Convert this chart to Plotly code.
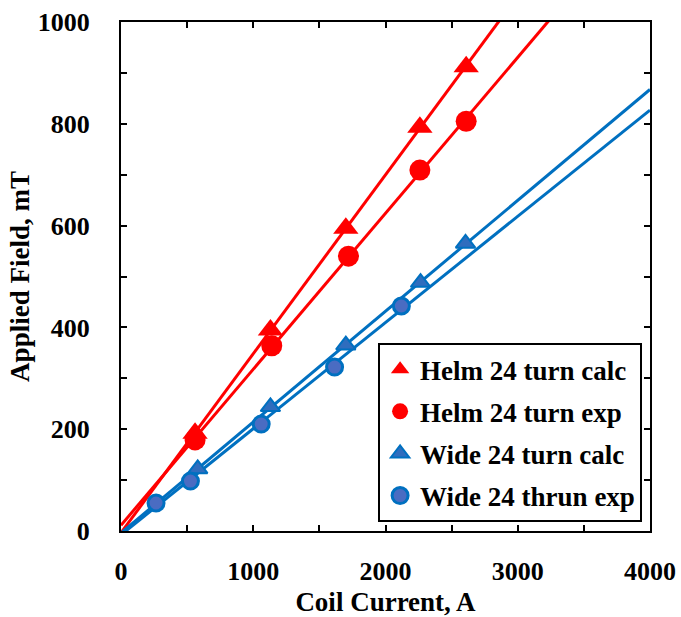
import numpy as np
import plotly.graph_objects as go

# Data
helm_calc_x = [560, 1130, 1700, 2260, 2610]
helm_calc_y = [192, 395, 595, 793, 912]
helm_exp_x = [560, 1140, 1720, 2260, 2610]
helm_exp_y = [179, 364, 540, 709, 805]
wide_calc_x = [580, 1130, 1700, 2265, 2605]
wide_calc_y = [122, 244, 365, 488, 565]
wide_exp_x = [265, 525, 1060, 1615, 2120]
wide_exp_y = [55, 98, 210, 322, 442]

x_ticks = [0, 500, 1000, 1500, 2000, 2500, 3000, 3500, 4000]
x_ticklabels = ["0", "", "1000", "", "2000", "", "3000", "", "4000"]
y_ticks = [0, 100, 200, 300, 400, 500, 600, 700, 800, 900, 1000]
y_ticklabels = ["0", "", "200", "", "400", "", "600", "", "800", "", "1000"]

RED = "#FF0000"
BLUE = "#0070C0"
FONT = "Liberation Serif"

series = [
    dict(name="Helm 24 turn calc", x=helm_calc_x, y=helm_calc_y, symbol="triangle-up",
         color=RED, line_color=RED, size=22, lw=0),
    dict(name="Helm 24 turn exp", x=helm_exp_x, y=helm_exp_y, symbol="circle",
         color=RED, line_color=RED, size=21, lw=0),
    dict(name="Wide 24 turn calc", x=wide_calc_x, y=wide_calc_y, symbol="triangle-up",
         color="#2F6DBE", line_color=BLUE, size=17, lw=2),
    dict(name="Wide 24 thrun exp", x=wide_exp_x, y=wide_exp_y, symbol="circle",
         color="#4A6CC2", line_color=BLUE, size=16, lw=3),
]

fig = go.Figure()

# Linear trendlines (fit from the data), drawn across the full x range
for s in series:
    slope, icpt = np.polyfit(s["x"], s["y"], 1)
    xs = np.array([0.0, 4000.0])
    fig.add_trace(go.Scatter(
        x=xs, y=slope * xs + icpt, mode="lines",
        line=dict(color=s["line_color"], width=3),
        showlegend=False, hoverinfo="skip", cliponaxis=True,
    ))

for i, s in enumerate(series):
    fig.add_trace(go.Scatter(
        x=s["x"], y=s["y"], mode="markers", name=s["name"],
        legendgroup=f"g{i}",
        marker=dict(symbol=s["symbol"], size=s["size"], color=s["color"],
                    line=dict(color=s["line_color"], width=s["lw"])),
        cliponaxis=False,
    ))

axis_common = dict(
    showgrid=False, zeroline=False, showline=True, linecolor="black", linewidth=2,
    mirror="allticks", ticks="inside", ticklen=6, tickwidth=2, tickcolor="black",
    tickfont=dict(family=FONT, size=26, color="black", weight="bold"),
    automargin=False,
)
title_font = dict(family=FONT, size=27, color="black", weight="bold")

fig.update_layout(
    width=681, height=617,
    margin=dict(l=121, r=31, t=22, b=86),
    paper_bgcolor="white", plot_bgcolor="white",
    font=dict(family=FONT, color="black"),
    xaxis=dict(
        range=[0, 4000], tickmode="array", tickvals=x_ticks, ticktext=x_ticklabels,
        ticklabelstandoff=16,
        title=dict(text="Coil Current, A", font=title_font, standoff=12),
        **axis_common,
    ),
    yaxis=dict(
        range=[0, 1000], tickmode="array", tickvals=y_ticks, ticktext=y_ticklabels,
        ticklabelstandoff=24,
        title=dict(text="Applied Field, mT", font=title_font, standoff=0),
        **axis_common,
    ),
    legend=dict(
        x=0.486, y=0.369, xanchor="left", yanchor="top",
        bgcolor="white", bordercolor="black", borderwidth=2,
        font=dict(family=FONT, size=27, color="black", weight="bold"),
        traceorder="grouped", tracegroupgap=4, itemwidth=30,
    ),
    showlegend=True,
)

fig.write_html("out.html")
